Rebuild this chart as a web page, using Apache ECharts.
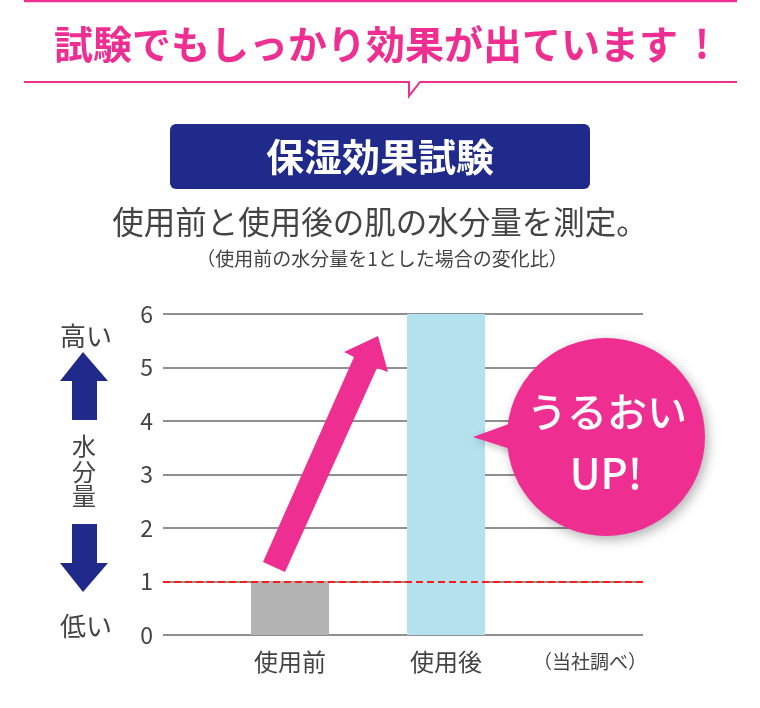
<!DOCTYPE html>
<html>
<head>
<meta charset="utf-8">
<style>
  html, body { margin: 0; padding: 0; background: #fff; }
  #chart { width: 760px; height: 708px; }
</style>
<script src="https://cdn.jsdelivr.net/npm/echarts@6/dist/echarts.min.js"></script>
</head>
<body>
<div id="chart"></div>
<script>
// values
const categories = ['使用前', '使用後']
const ratios = [1, 6]
const barColors = ['#b3b3b3', '#b3e1ee']
const baseline = 1
const yMin = 0
const yMax = 6
const note = '（当社調べ）'

const pink = '#ef2e91'
const navy = '#1f2a8b'
const font = '"Noto Sans CJK JP", "Noto Sans", sans-serif'

const chart = echarts.init(document.getElementById('chart'))

function txt(text, x, y, size, color, weight, extra) {
  return Object.assign({
    type: 'text',
    z: 100,
    style: {
      text: text, x: x, y: y,
      fill: color,
      font: (weight || 'normal') + ' ' + size + 'px ' + font,
      textAlign: 'center',
      textVerticalAlign: 'middle'
    }
  }, extra || {})
}

const noteText = txt(note, 647, 662, 19, '#444')
noteText.style.textAlign = 'right'

const graphics = [
  // header
  { type: 'line', z: 100, shape: { x1: 24, y1: 1, x2: 737, y2: 1 }, style: { stroke: pink, lineWidth: 2.5 } },
  txt('試験でもしっかり効果が出ています', 366, 44, 39, pink, 'bold'),
  txt('!', 702, 44, 39, pink, 'bold'),
  {
    type: 'polyline', z: 100,
    shape: { points: [[24, 82], [409, 82], [409, 96], [420, 82], [737, 82]] },
    style: { stroke: pink, lineWidth: 2, fill: null }
  },
  { type: 'rect', z: 100, shape: { x: 170, y: 124, width: 420, height: 65, r: 6 }, style: { fill: navy } },
  txt('保湿効果試験', 380, 157, 38, '#fff', 'bold'),
  txt('使用前と使用後の肌の水分量を測定。', 380, 222, 31.5, '#444'),
  txt('（使用前の水分量を1とした場合の変化比）', 382, 259, 19, '#444'),

  // left legend of the y axis
  txt('高い', 86, 336, 26, '#444'),
  { type: 'polygon', z: 100, shape: { points: [[83, 352], [108, 381], [97, 381], [97, 420], [72, 420], [72, 381], [60, 381]] }, style: { fill: navy } },
  txt('水', 84, 446, 24, '#444'),
  txt('分', 84, 472, 24, '#444'),
  txt('量', 84, 496, 24, '#444'),
  { type: 'polygon', z: 100, shape: { points: [[72, 524], [97, 524], [97, 563], [108, 563], [83, 592], [60, 563], [72, 563]] }, style: { fill: navy } },
  txt('低い', 86, 626, 26, '#444'),

  // note under the axis
  noteText,

  // rising arrow
  {
    type: 'polygon', z: 100,
    shape: { points: [[263, 562], [354, 357], [344, 352], [378, 336], [388, 372], [377, 368], [285, 572]] },
    style: { fill: pink }
  },

  // speech bubble
  {
    type: 'polygon', z: 100,
    shape: { points: [[473, 437], [520, 420], [520, 452]] },
    style: { fill: pink, shadowBlur: 8, shadowColor: 'rgba(0,0,0,0.25)', shadowOffsetX: 2, shadowOffsetY: 3 }
  },
  {
    type: 'circle', z: 101,
    shape: { cx: 606, cy: 437, r: 99 },
    style: { fill: pink, shadowBlur: 12, shadowColor: 'rgba(0,0,0,0.3)', shadowOffsetX: 3, shadowOffsetY: 4 }
  },
  { type: 'polygon', z: 102, shape: { points: [[474, 437], [520, 421], [520, 451]] }, style: { fill: pink } },
  txt('うるおい', 607, 412, 40, '#fff', '500', { z: 103 }),
  txt('UP!', 606, 473, 42, '#fff', '500', { z: 103 })
]

chart.setOption({
  animation: false,
  backgroundColor: '#fff',
  textStyle: { fontFamily: font },
  grid: [
    { left: 163, right: 117, top: 314, bottom: 73 },
    { left: 212, width: 312, top: 314, bottom: 73 }
  ],
  xAxis: [
    { type: 'value', gridIndex: 0, min: 0, max: 1, show: false },
    {
      type: 'category', gridIndex: 1, data: categories,
      axisLine: { show: false }, axisTick: { show: false },
      axisLabel: { fontSize: 24, color: '#444', margin: 15 }
    }
  ],
  yAxis: [
    {
      type: 'value', gridIndex: 0, min: yMin, max: yMax, interval: 1,
      axisLine: { show: false }, axisTick: { show: false },
      axisLabel: { fontSize: 23, color: '#444', margin: 10 },
      splitLine: { lineStyle: { color: '#8f8f8f', width: 2 } }
    },
    { type: 'value', gridIndex: 1, min: yMin, max: yMax, show: false }
  ],
  series: [
    {
      type: 'line', xAxisIndex: 0, yAxisIndex: 0, data: [],
      markLine: {
        silent: true, symbol: 'none',
        label: { show: false },
        lineStyle: { color: '#ff1a1a', type: [7, 4], width: 2 },
        data: [{ yAxis: baseline }]
      }
    },
    {
      type: 'bar', xAxisIndex: 1, yAxisIndex: 1, barWidth: 78,
      data: ratios.map((v, i) => ({ value: v, itemStyle: { color: barColors[i] } }))
    }
  ],
  graphic: graphics
})
</script>
</body>
</html>
